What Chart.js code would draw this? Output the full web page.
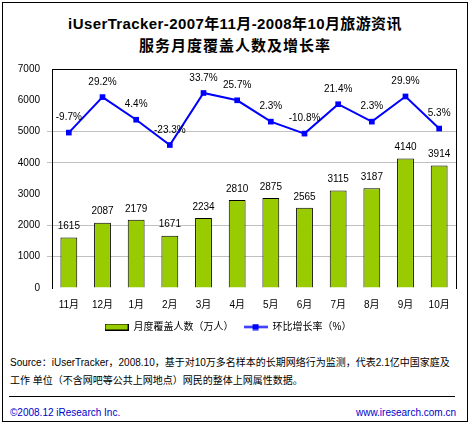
<!DOCTYPE html>
<html>
<head>
<meta charset="utf-8">
<script src="https://cdn.jsdelivr.net/npm/chart.js@4"></script>
<style>
  body { margin: 0; background: #fff; }
  #wrap { position: relative; width: 470px; height: 424px; font-family: "Liberation Sans", "Noto Sans CJK SC", sans-serif; color: #000; }
  #frame { position: absolute; left: 2px; top: 2px; width: 464px; height: 418px; border: 1px solid #000; }
  #chart { position: absolute; left: 0; top: 0; }
  .title { position: absolute; left: 0; width: 470px; text-align: center; font-size: 15px; font-weight: bold; white-space: nowrap; }
  .src { position: absolute; left: 10px; font-size: 10px; white-space: nowrap; line-height: 12px; }
  #rule { position: absolute; left: 9px; top: 396px; width: 446px; height: 1px; background: #000; }
  .foot { position: absolute; top: 407px; font-size: 10px; color: #0000cc; line-height: 12px; }
</style>
</head>
<body>
<div id="wrap">
  <div id="frame"></div>
  <div class="title" style="top: 12px; letter-spacing: 0.4px;">iUserTracker-2007年11月-2008年10月旅游资讯</div>
  <div class="title" style="top: 34px; letter-spacing: 1px;">服务月度覆盖人数及增长率</div>
  <canvas id="chart" width="470" height="345"></canvas>
  <div class="src" style="top: 357px;">Source：iUserTracker，2008.10，基于对10万多名样本的长期网络行为监测，代表2.1亿中国家庭及</div>
  <div class="src" style="top: 375px;">工作 单位（不含网吧等公共上网地点）网民的整体上网属性数据。</div>
  <div id="rule"></div>
  <div class="foot" style="left: 10px;">©2008.12 iResearch Inc.</div>
  <div class="foot" style="right: 14px;">www.iresearch.com.cn</div>
</div>
<script>
const months = ['11月', '12月', '1月', '2月', '3月', '4月', '5月', '6月', '7月', '8月', '9月', '10月'];
const coverage = [1615, 2087, 2179, 1671, 2234, 2810, 2875, 2565, 3115, 3187, 4140, 3914];
const growthRates = [-9.7, 29.2, 4.4, -23.3, 33.7, 25.7, 2.3, -10.8, 21.4, 2.3, 29.9, -5.3];
const growthLabels = ['-9.7%', '29.2%', '4.4%', '-23.3%', '33.7%', '25.7%', '2.3%', '-10.8%', '21.4%', '2.3%', '29.9%', '5.3%'];
const gridValues = [1000, 2000, 4000, 5000];

const barColor = '#99cc00';
const lineColor = '#0000ff';
const smallFont = { family: '"Liberation Sans", "Noto Sans CJK SC", sans-serif', size: 10 };

// little pictures used as legend symbols
function legendIcon(kind) {
    const c = document.createElement('canvas');
    c.width = 24;
    c.height = 7;
    const g = c.getContext('2d');
    if (kind === 'bar') {
        g.fillStyle = barColor;
        g.fillRect(0, 0, 24, 7);
        g.strokeStyle = '#000';
        g.lineWidth = 1;
        g.strokeRect(0.5, 0.5, 23, 6);
    } else {
        g.strokeStyle = lineColor;
        g.lineWidth = 2;
        g.beginPath();
        g.moveTo(0, 3.5);
        g.lineTo(24, 3.5);
        g.stroke();
        g.fillStyle = lineColor;
        g.fillRect(9, 0.5, 6, 6);
    }
    return c;
}
const icons = [legendIcon('bar'), legendIcon('line')];

// value labels above bars and points
const valueLabels = {
    id: 'valueLabels',
    afterDatasetsDraw(chart) {
        const ctx = chart.ctx;
        ctx.save();
        ctx.font = '10px "Liberation Sans", "Noto Sans CJK SC", sans-serif';
        ctx.fillStyle = '#000';
        ctx.textAlign = 'center';
        ctx.textBaseline = 'middle';
        chart.getDatasetMeta(0).data.forEach((bar, i) => {
            ctx.fillText(String(coverage[i]), bar.x, bar.y - 11);
        });
        chart.getDatasetMeta(1).data.forEach((pt, i) => {
            ctx.fillText(growthLabels[i], pt.x, pt.y - 15);
        });
        ctx.restore();
    }
};

function gridColor(ctx) {
    const v = ctx.tick && ctx.tick.value;
    if (v === 7000) return '#000';
    return gridValues.includes(v) ? '#c0c0c0' : 'rgba(0,0,0,0)';
}
function tickColor(ctx) {
    const v = ctx.tick && ctx.tick.value;
    return gridValues.includes(v) ? '#c0c0c0' : 'rgba(0,0,0,0)';
}

new Chart(document.getElementById('chart'), {
    data: {
        labels: months,
        datasets: [{
            type: 'bar',
            label: '月度覆盖人数（万人）',
            data: coverage,
            backgroundColor: barColor,
            borderColor: '#000',
            borderWidth: 1,
            barPercentage: 0.5,
            categoryPercentage: 1,
            yAxisID: 'y'
        }, {
            type: 'line',
            label: '环比增长率（%）',
            data: growthRates,
            borderColor: lineColor,
            backgroundColor: lineColor,
            borderWidth: 2,
            pointStyle: 'rect',
            pointRadius: 4,
            pointBorderWidth: 0,
            tension: 0,
            yAxisID: 'y1'
        }]
    },
    options: {
        responsive: false,
        animation: false,
        devicePixelRatio: 1,
        layout: { padding: { top: 69, left: 0, right: 14, bottom: 3 } },
        plugins: {
            title: { display: false },
            tooltip: { enabled: false },
            legend: {
                position: 'bottom',
                labels: {
                    usePointStyle: true,
                    pointStyleWidth: 24,
                    boxHeight: 7,
                    padding: 10,
                    color: '#000',
                    font: smallFont,
                    generateLabels(chart) {
                        const items = Chart.defaults.plugins.legend.labels.generateLabels(chart);
                        items.forEach((it, i) => { it.pointStyle = icons[i]; });
                        return items;
                    }
                }
            }
        },
        scales: {
            x: {
                grid: { display: false, drawTicks: false },
                border: { display: false },
                ticks: { color: '#000', font: smallFont, padding: 11, maxRotation: 0 },
                afterFit(scale) { scale.height = 24; }
            },
            y: {
                min: 0,
                max: 7000,
                ticks: {
                    stepSize: 1000,
                    color: '#000',
                    font: smallFont,
                    padding: 7,
                    callback: value => String(value)
                },
                grid: { color: gridColor, tickColor: tickColor, tickLength: 5, lineWidth: 1 },
                border: { color: '#000', width: 1 },
                afterFit(scale) { scale.width = 52; }
            },
            y1: {
                position: 'right',
                min: -180,
                max: 60,
                ticks: { display: false },
                grid: { drawOnChartArea: false, drawTicks: false },
                border: { color: '#000', width: 1 },
                afterFit(scale) { scale.width = 0; }
            }
        }
    },
    plugins: [valueLabels]
});
</script>
</body>
</html>
